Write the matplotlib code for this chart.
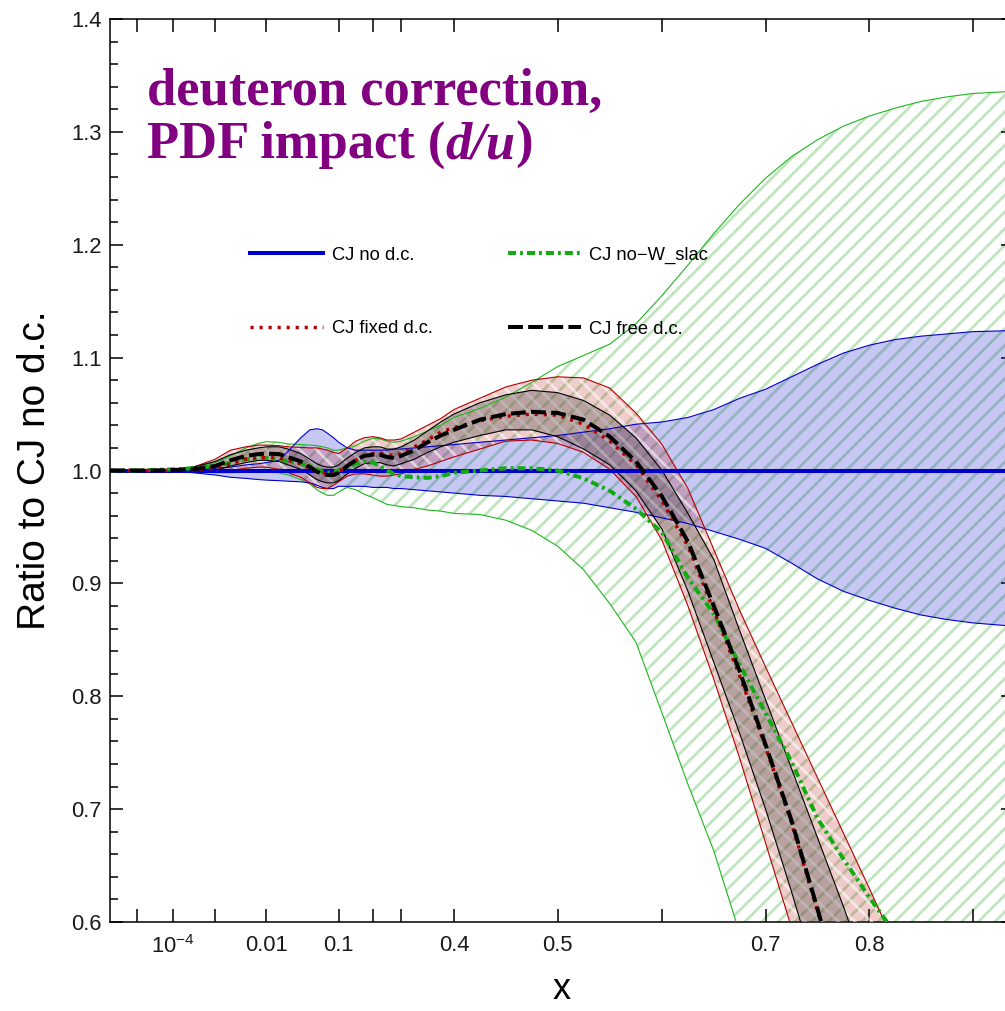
import numpy as np
import matplotlib
matplotlib.use("Agg")
import matplotlib.pyplot as plt
from matplotlib.ticker import MultipleLocator, NullLocator

plt.rcParams["font.family"] = ["Liberation Sans", "DejaVu Sans"]
plt.rcParams["mathtext.fontset"] = "custom"
plt.rcParams["mathtext.rm"] = "Liberation Sans"
plt.rcParams["mathtext.it"] = "Liberation Sans:italic"
plt.rcParams["hatch.linewidth"] = 2.0

nan = np.nan

x = np.array([1.8e-6, 1e-5, 3e-5, 1e-4, 3e-4, 1e-3, 2e-3, 4e-3, 7e-3, 0.01,
              0.015, 0.02, 0.03, 0.04, 0.05, 0.06, 0.07, 0.085, 0.1, 0.125,
              0.15, 0.175, 0.2, 0.225, 0.25, 0.275, 0.3, 0.325, 0.35, 0.375,
              0.4, 0.425, 0.45, 0.475, 0.5, 0.525, 0.55, 0.575, 0.6, 0.625,
              0.65, 0.675, 0.7, 0.725, 0.75, 0.775, 0.8, 0.825, 0.85, 0.875,
              0.9, 0.94])

# CJ no d.c. (reference, ratio = 1) and its band
nodc_ratio = 1.0
nodc_hi = [1.000, 1.000, 1.000, 1.0005, 1.001, 1.002, 1.003, 1.005, 1.006, 1.007,
           1.009, 1.017, 1.029, 1.036, 1.037, 1.036, 1.033, 1.029, 1.025, 1.020,
           1.018, 1.018, 1.018, 1.018, 1.018, 1.019, 1.019, 1.020, 1.021, 1.022,
           1.023, 1.025, 1.027, 1.029, 1.031, 1.034, 1.037, 1.041, 1.043, 1.047,
           1.054, 1.064, 1.072, 1.083, 1.094, 1.104, 1.111, 1.116, 1.119, 1.121,
           1.123, 1.124]
nodc_lo = [1.000, 1.000, 1.000, 0.9995, 0.998, 0.996, 0.994, 0.993, 0.992, 0.9915,
           0.991, 0.9905, 0.990, 0.989, 0.987, 0.985, 0.984, 0.984, 0.986, 0.986,
           0.986, 0.986, 0.985, 0.985, 0.985, 0.984, 0.984, 0.983, 0.982, 0.981,
           0.980, 0.978, 0.977, 0.975, 0.973, 0.971, 0.967, 0.963, 0.958, 0.953,
           0.946, 0.939, 0.931, 0.918, 0.904, 0.893, 0.885, 0.878, 0.872, 0.868,
           0.865, 0.862]

# CJ no-W_slac
slac_c = [1.000, 1.000, 1.0005, 1.001, 1.002, 1.004, 1.007, 1.010, 1.011, 1.011,
          1.010, 1.008, 1.006, 1.004, 1.001, 0.999, 0.998, 0.999, 1.000, 1.003,
          1.006, 1.008, 1.007, 1.004, 1.000, 0.997, 0.995, 0.994, 0.9935, 0.995,
          0.998, 1.000, 1.002, 1.002, 1.000, 0.993, 0.982, 0.966, 0.945, 0.905,
          0.873, 0.828, 0.785, 0.742, 0.692, 0.656, 0.622, 0.590, nan, nan,
          nan, nan]
slac_hi = [1.000, 1.000, 1.0005, 1.001, 1.003, 1.007, 1.013, 1.020, 1.024, 1.0255,
           1.025, 1.0235, 1.023, 1.0225, 1.022, 1.021, 1.020, 1.018, 1.018, 1.020,
           1.022, 1.026, 1.0285, 1.028, 1.026, 1.025, 1.026, 1.030, 1.035, 1.040,
           1.047, 1.055, 1.065, 1.078, 1.092, 1.102, 1.112, 1.130, 1.155, 1.182,
           1.210, 1.236, 1.259, 1.278, 1.293, 1.305, 1.314, 1.321, 1.327, 1.331,
           1.334, 1.336]
slac_lo = [1.000, 1.000, 1.000, 0.9995, 0.999, 0.998, 0.998, 0.999, 0.999, 0.999,
           0.998, 0.996, 0.992, 0.988, 0.983, 0.980, 0.978, 0.978, 0.981, 0.985,
           0.983, 0.979, 0.976, 0.973, 0.970, 0.969, 0.968, 0.967, 0.965, 0.964,
           0.962, 0.961, 0.956, 0.947, 0.933, 0.912, 0.882, 0.848, 0.785, 0.722,
           0.663, 0.590, 0.510, nan, nan, nan, nan, nan, nan, nan,
           nan, nan]

# CJ fixed d.c.
fixed_c = [1.000, 1.000, 1.000, 1.000, 1.0005, 1.002, 1.006, 1.010, 1.011, 1.0115,
           1.011, 1.009, 1.006, 1.002, 0.999, 0.998, 0.997, 0.997, 0.999, 1.004,
           1.009, 1.013, 1.015, 1.015, 1.014, 1.013, 1.015, 1.021, 1.027, 1.034,
           1.038, 1.044, 1.048, 1.050, 1.049, 1.041, 1.026, 1.005, 0.973, 0.933,
           0.876, 0.818, 0.755, 0.688, 0.610, 0.530, nan, nan, nan, nan,
           nan, nan]
fixed_hi = [1.000, 1.000, 1.0005, 1.001, 1.003, 1.010, 1.018, 1.021, 1.0225, 1.0225,
            1.022, 1.021, 1.0205, 1.020, 1.020, 1.019, 1.018, 1.016, 1.015, 1.020,
            1.026, 1.029, 1.030, 1.029, 1.027, 1.027, 1.028, 1.034, 1.040, 1.046,
            1.054, 1.064, 1.074, 1.080, 1.083, 1.082, 1.073, 1.051, 1.023, 0.984,
            0.930, 0.876, 0.826, 0.777, 0.728, 0.679, 0.630, 0.580, nan, nan,
            nan, nan]
fixed_lo = [1.000, 1.000, 0.9995, 0.9995, 0.999, 0.999, 1.000, 1.002, 1.003, 1.003,
            1.001, 0.998, 0.994, 0.989, 0.985, 0.984, 0.984, 0.987, 0.990, 0.995,
            0.997, 0.997, 0.996, 0.995, 0.995, 0.996, 0.997, 1.001, 1.004, 1.008,
            1.012, 1.019, 1.026, 1.027, 1.024, 1.016, 1.001, 0.977, 0.938, 0.880,
            0.815, 0.745, 0.670, 0.595, 0.520, nan, nan, nan, nan, nan,
            nan, nan]

# CJ free d.c.
free_c = [1.000, 1.000, 1.000, 1.0005, 1.001, 1.004, 1.009, 1.013, 1.0145, 1.015,
          1.0145, 1.012, 1.008, 1.003, 0.999, 0.997, 0.996, 0.996, 0.998, 1.004,
          1.009, 1.013, 1.014, 1.014, 1.012, 1.011, 1.013, 1.018, 1.025, 1.031,
          1.036, 1.045, 1.050, 1.052, 1.051, 1.045, 1.030, 1.008, 0.977, 0.937,
          0.880, 0.822, 0.757, 0.690, 0.612, 0.530, nan, nan, nan, nan,
          nan, nan]
free_hi = [1.000, 1.000, 1.0005, 1.001, 1.003, 1.008, 1.014, 1.018, 1.020, 1.021,
           1.021, 1.019, 1.015, 1.010, 1.006, 1.004, 1.003, 1.003, 1.005, 1.011,
           1.016, 1.020, 1.021, 1.021, 1.019, 1.019, 1.021, 1.027, 1.035, 1.043,
           1.050, 1.060, 1.067, 1.071, 1.069, 1.062, 1.049, 1.029, 1.000, 0.962,
           0.921, 0.858, 0.797, 0.736, 0.675, 0.614, 0.550, nan, nan, nan,
           nan, nan]
free_lo = [1.000, 1.000, 0.9995, 1.000, 0.999, 1.000, 1.004, 1.007, 1.009, 1.009,
           1.008, 1.005, 1.001, 0.996, 0.992, 0.990, 0.989, 0.989, 0.991, 0.997,
           1.002, 1.006, 1.007, 1.007, 1.005, 1.004, 1.006, 1.010, 1.016, 1.021,
           1.025, 1.031, 1.036, 1.036, 1.030, 1.019, 1.005, 0.982, 0.948, 0.893,
           0.830, 0.767, 0.700, 0.627, 0.550, nan, nan, nan, nan, nan,
           nan, nan]

xtick_vals = [1e-5, 1e-4, 1e-3, 0.01, 0.1, 0.2, 0.3, 0.4, 0.5, 0.6, 0.7, 0.8, 0.9]
xtick_labs = ["", r"$10^{-4}$", "", "0.01", "0.1", "", "", "0.4", "0.5", "", "0.7", "0.8", ""]
ytick_vals = [0.6, 0.7, 0.8, 0.9, 1.0, 1.1, 1.2, 1.3, 1.4]

# x axis of the original: log below 0.1, stretched linear above
AXIS_S = [-6, -5, -4, -3, -2, -1, 0, 1, 2, 3, 4, 5, 6, 7, 8]
AXIS_U = [-9, 26.7, 63.3, 105, 156, 228.3, 262.3, 290.7, 343.3, 446.7, 551, 654.3, 757.7, 861, 964]


def to_s(v):
    v = np.asarray(v, dtype=float)
    logv = np.log10(np.clip(v, 1e-12, None))
    return np.where(v <= 0.1, logv, (v - 0.1) * 10 - 1)


def fwd(v):
    return np.interp(to_s(v), AXIS_S, AXIS_U)


def inv(u):
    s = np.interp(u, AXIS_U, AXIS_S)
    return np.where(s <= -1, 10.0 ** s, (s + 1) / 10 + 0.1)


def filled(a):
    # below the plot where the curve has left the frame
    return np.nan_to_num(np.asarray(a, dtype=float), nan=0.0)


blue = "#0000cd"
green = "#1fb51f"
red = "#b30000"

fig = plt.figure(figsize=(10.05, 10.11), dpi=100)
ax = fig.add_axes([110 / 1005, 89 / 1011, 904 / 1005, 903 / 1011])
ax.set_xscale("function", functions=(fwd, inv))

# bands
ax.fill_between(x, filled(slac_lo), filled(slac_hi), facecolor="none",
                edgecolor="#bfe5bf", hatch="//", linewidth=0, zorder=1)
ax.fill_between(x, nodc_lo, nodc_hi, facecolor=(0, 0, 0.8, 0.22), linewidth=0, zorder=2)
ax.fill_between(x, filled(fixed_lo), filled(fixed_hi), facecolor=(0.7, 0, 0, 0.2),
                linewidth=0, zorder=3)
ax.fill_between(x, filled(fixed_lo), filled(fixed_hi), facecolor="none",
                edgecolor=(1, 1, 1, 0.55), hatch="\\\\", linewidth=0, zorder=3.1)
ax.fill_between(x, filled(free_lo), filled(free_hi), facecolor=(0.25, 0.25, 0.25, 0.3),
                linewidth=0, zorder=4)

# band edges
for lo, hi, col in [(slac_lo, slac_hi, green), (nodc_lo, nodc_hi, blue),
                    (fixed_lo, fixed_hi, red), (free_lo, free_hi, "black")]:
    ax.plot(x, lo, color=col, lw=0.8, zorder=5)
    ax.plot(x, hi, color=col, lw=0.8, zorder=5)

# central curves
l_nodc = ax.axhline(nodc_ratio, color=blue, lw=2.9, zorder=6, label="CJ no d.c.")
l_slac, = ax.plot(x, slac_c, color="#12ab12", lw=2.9, dashes=(2.0, 1.0, 0.7, 1.0),
                  zorder=7, label="CJ no\u2212W_slac")
l_fixed, = ax.plot(x, fixed_c, color=red, lw=2.5, dashes=(0.9, 1.7),
                   zorder=8, label="CJ fixed d.c.")
l_free, = ax.plot(x, free_c, color="black", lw=2.9, dashes=(3.7, 1.3),
                  zorder=9, label="CJ free d.c.")

ax.set_xlim(1.8e-6, 0.94)
ax.set_ylim(0.6, 1.4)

ax.set_xticks(xtick_vals, xtick_labs)
ax.xaxis.set_minor_locator(NullLocator())
ax.set_yticks(ytick_vals, [f"{v:.1f}" for v in ytick_vals])
ax.yaxis.set_minor_locator(MultipleLocator(0.02))
ax.tick_params(which="both", direction="in", top=True, right=True,
               width=1.1, colors="black", labelcolor="#1a1a1a")
ax.tick_params(which="major", length=9.4, labelsize=15.8)
ax.tick_params(which="minor", length=5.8)
ax.tick_params(axis="x", which="major", pad=9.4)
ax.tick_params(axis="y", which="major", pad=5.8)
for sp in ax.spines.values():
    sp.set_linewidth(1.1)

ax.set_ylabel("Ratio to CJ no d.c.", fontsize=28)
ax.yaxis.set_label_coords(-0.063, 0.5)
ax.set_xlabel("x", fontsize=26)
ax.xaxis.set_label_coords(0.5, -0.055)

ax.legend(handles=[l_nodc, l_fixed, l_slac, l_free], ncol=2, loc="upper left",
          bbox_to_anchor=(0.155, 0.748), frameon=False, fontsize=13.2,
          handlelength=4.0, handletextpad=0.45, columnspacing=4.1,
          labelspacing=3.1, borderpad=0, borderaxespad=0)

# title
serif = ["Liberation Serif", "DejaVu Serif"]
tkw = dict(fontsize=37.8, fontweight="bold", color="#800080", family=serif)
ax.text(0.041, 0.905, "deuteron correction,", transform=ax.transAxes, va="baseline", zorder=10, **tkw)
t2 = ax.text(0.041, 0.846, "PDF impact (", transform=ax.transAxes, va="baseline", zorder=10, **tkw)
t3 = ax.annotate("d/u", xy=(1, 0), xycoords=t2, va="bottom", ha="left", style="italic", zorder=10, **tkw)
ax.annotate(")", xy=(1, 0), xycoords=t3, va="bottom", ha="left", zorder=10, **tkw)

fig.savefig("out.png", dpi=100)
